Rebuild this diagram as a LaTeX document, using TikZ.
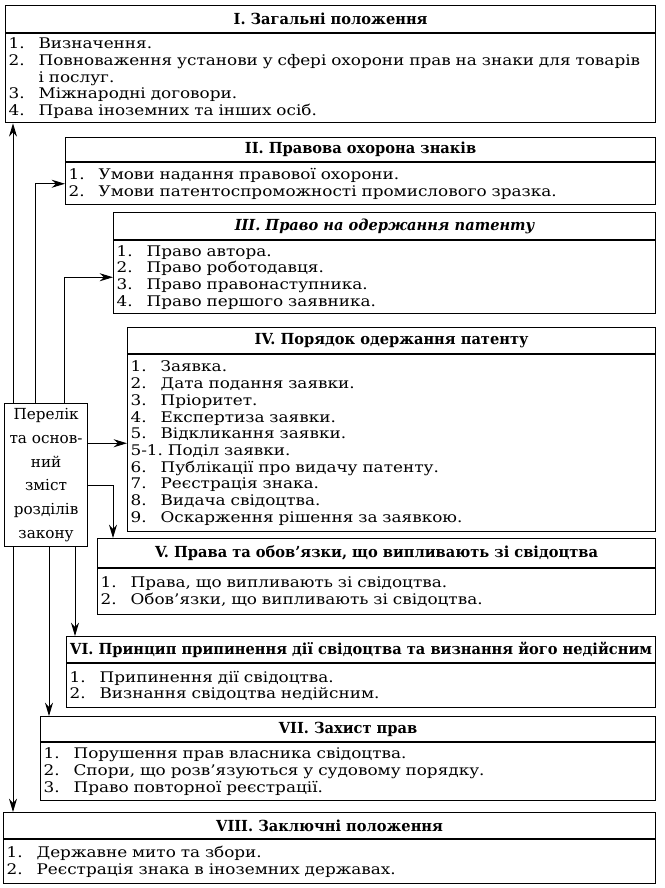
\documentclass[tikz,border=0pt]{standalone}
\usepackage{fontspec}
\setmainfont{DejaVu Serif}
\newfontfamily\headfont[FakeStretch=0.96]{DejaVu Serif}
\newfontfamily\itemfont[FakeStretch=1.15]{DejaVu Serif}
\usetikzlibrary{arrows.meta, positioning, calc}
\newcommand{\bodyfont}{\itemfont\fontsize{12.5}{14.26}\selectfont}
\newcommand{\nr}[1]{\makebox[9mm][l]{#1}}
\tikzset{
  hdr/.style={draw, line width=1pt, anchor=north west, inner sep=0pt, font=\headfont\bfseries\fontsize{13}{14}\selectfont},
  bdy/.style={draw, line width=1pt, anchor=north west, inner xsep=0.9mm, inner ysep=0pt, align=left, font=\bodyfont},
  lst/.style={draw, line width=1pt, anchor=north west, minimum width=24.9mm, minimum height=42.9mm, inner sep=0pt, align=center, font=\fontsize{13}{20.3}\selectfont},
  arr/.style={-{Stealth[length=4mm, width=2.4mm]}, line width=0.8pt}
}
% name, left, top, header bottom, bottom, title, items
\newcommand{\sect}[7]{%
  \node[hdr, minimum width={(655-#2)*0.3mm}, minimum height={(#4-#3)*0.3mm}] (#1) at (#2,#3) {#6};
  \node[bdy, minimum width={(655-#2)*0.3mm}, minimum height={(#5-#4)*0.3mm}, text width={(655-#2)*0.3mm-1.8mm}] (#1-b) at (#1.south west) {#7};
}
\begin{document}
\begin{tikzpicture}[x=0.3mm, y=-0.3mm]
\useasboundingbox (0,0) rectangle (664,888);
\sect{s1}{5}{5}{32}{121}{I. Загальні положення}{\nr{1.}Визначення.\\\nr{2.}Повноваження установи у сфері охорони прав на знаки для товарів\\\nr{}і послуг.\\\nr{3.}Міжнародні договори.\\\nr{4.}Права іноземних та інших осіб.}
\sect{s2}{65}{137}{161}{203}{II. Правова охорона знаків}{\nr{1.}Умови надання правової охорони.\\\nr{2.}Умови патентоспроможності промислового зразка.}
\sect{s3}{113}{212}{239}{312}{\itshape III. Право на одержання патенту}{\nr{1.}Право автора.\\\nr{2.}Право роботодавця.\\\nr{3.}Право правонаступника.\\\nr{4.}Право першого заявника.}
\sect{s4}{127}{327}{353}{530}{IV. Порядок одержання патенту}{\nr{1.}Заявка.\\\nr{2.}Дата подання заявки.\\\nr{3.}Пріоритет.\\\nr{4.}Експертиза заявки.\\\nr{5.}Відкликання заявки.\\5-1.\ Поділ заявки.\\\nr{6.}Публікації про видачу патенту.\\\nr{7.}Реєстрація знака.\\\nr{8.}Видача свідоцтва.\\\nr{9.}Оскарження рішення за заявкою.}
\sect{s5}{97}{538}{567}{613}{V. Права та обов’язки, що випливають зі свідоцтва}{\nr{1.}Права, що випливають зі свідоцтва.\\\nr{2.}Обов’язки, що випливають зі свідоцтва.}
\sect{s6}{66}{636}{662}{706}{VI. Принцип припинення дії свідоцтва та визнання його недійсним}{\nr{1.}Припинення дії свідоцтва.\\\nr{2.}Визнання свідоцтва недійсним.}
\sect{s7}{40}{716}{741}{799}{VII. Захист прав}{\nr{1.}Порушення прав власника свідоцтва.\\\nr{2.}Спори, що розв’язуються у судовому порядку.\\\nr{3.}Право повторної реєстрації.}
\sect{s8}{3}{812}{838}{882}{VIII. Заключні положення}{\nr{1.}Державне мито та збори.\\\nr{2.}Реєстрація знака в іноземних державах.}
\node[lst] (list) at (4,403) {Перелік\\та основ-\\ний\\зміст\\розділів\\закону};
% upward connectors
\coordinate (l1) at ([xshift=2.7mm]list.north west);
\coordinate (l2) at ([xshift=9.3mm]list.north west);
\coordinate (l3) at ([xshift=18mm]list.north west);
\draw[arr] (l1) -- (l1 |- s1-b.south);
\draw[arr] (l2) |- (s2-b.west);
\draw[arr] (l3) |- (s3-b.west);
% sideways connectors
\draw[arr] (list.east |- s4-b.west) -- (s4-b.west);
\coordinate (r5) at ([yshift=-3.2mm]list.east);
\draw[arr] (r5) -| ([xshift=4.8mm]s5.north west);
% downward connectors
\coordinate (b6) at ([xshift=21.3mm]list.south west);
\coordinate (b7) at ([xshift=13.5mm]list.south west);
\coordinate (b8) at ([xshift=2.7mm]list.south west);
\draw[arr] (b6) -- (b6 |- s6.north);
\draw[arr] (b7) -- (b7 |- s7.north);
\draw[arr] (b8) -- (b8 |- s8.north);
\end{tikzpicture}
\end{document}
